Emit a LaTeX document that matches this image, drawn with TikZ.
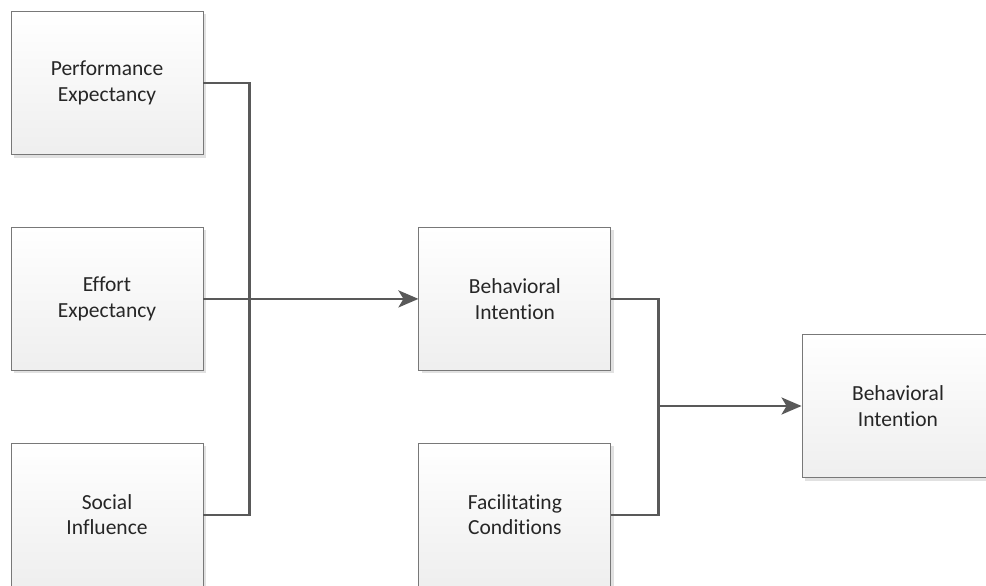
\documentclass[tikz,border=0pt]{standalone}
\usepackage{fontspec}
\setmainfont{Carlito}[RawFeature=-liga]
\usepackage{tikz}
\usetikzlibrary{
	positioning,
	shadows,
	calc,
	arrows.meta
}
\definecolor{BoxLine}{RGB}{120,120,120}
\definecolor{LinkGray}{RGB}{89,89,89}
\definecolor{TextGray}{RGB}{38,38,38}
\tikzset{
	factor/.style={
		draw=BoxLine,
		line width=0.9pt,
		top color=white,
		bottom color=gray!13,
		drop shadow={shadow xshift=3pt,shadow yshift=-3pt,fill=gray!30,opacity=0.8},
		minimum width=192pt,
		minimum height=143pt,
		align=center,
		text=TextGray,
		font=\fontsize{21.5}{25.5}\selectfont
	},
	link/.style={
		draw=LinkGray,
		line width=2.6pt
	},
	arrow/.style={
		link,
		-{Stealth[length=20pt,width=17pt,inset=5pt]}
	}
}

\begin{document}
\begin{tikzpicture}[x=1pt,y=-1pt]
				
				\useasboundingbox (0,0) rectangle (986,586);
				
				\node[factor] (P) at (107,83) {Performance\\Expectancy};
				
				\node[factor, below=72pt of P] (E) {Effort\\Expectancy};
				
				\node[factor, below=72pt of E] (S) {Social\\Influence};
				
				\node[factor, right=215pt of E] (BI) {Behavioral\\Intention};
				
				\node[factor, below=72pt of BI] (FC) {Facilitating\\Conditions};
				
				\node[factor] (UB) at (898,406) {Behavioral\\Intention};
				
				\coordinate (J1) at ($(E.east)+(46,0)$);
				\coordinate (J2) at ($(BI.east)+(47,0)$);
				\coordinate (J3) at (J2 |- UB.west);
				
				\draw[link] (P.east) -| (J1) |- (S.east);
				\draw[arrow] (E.east) -- (BI.west);
				\draw[link] (BI.east) -- (J2) |- (FC.east);
				\draw[arrow] (J3) -- (UB.west);
				
			\end{tikzpicture}
\end{document}
